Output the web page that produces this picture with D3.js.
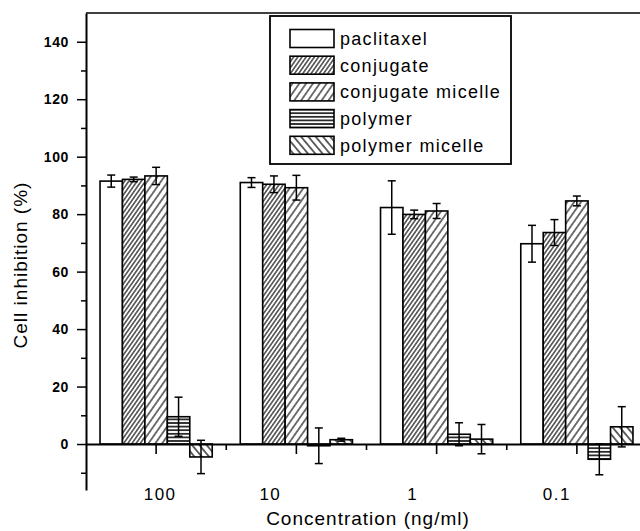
<!DOCTYPE html>
<html>
<head>
<meta charset="utf-8">
<script src="https://cdn.jsdelivr.net/npm/d3@7"></script>
<style>
  body { margin: 0; background: #fff; }
  svg { display: block; font-family: "Liberation Sans", Arial, sans-serif; }
</style>
</head>
<body>
<svg width="640" height="531"></svg>
<script>
// data
var concentrations = ["100", "10", "1", "0.1"];
var seriesNames = ["paclitaxel", "conjugate", "conjugate micelle", "polymer", "polymer micelle"];

var paclitaxel = [91.5, 91.0, 82.3, 69.7];
var paclitaxelErr = [2.1, 1.7, 9.3, 6.4];
var conjugate = [92.1, 90.4, 79.9, 73.6];
var conjugateErr = [0.8, 2.9, 1.5, 4.5];
var conjugateMicelle = [93.3, 89.2, 81.1, 84.6];
var conjugateMicelleErr = [3.0, 4.3, 2.6, 1.7];
var polymer = [9.5, -0.6, 3.4, -5.3];
var polymerErr = [6.8, 6.2, 4.0, 5.4];
var polymerMicelle = [-4.5, 1.5, 1.7, 6.0];
var polymerMicelleErr = [5.8, 0.5, 5.1, 7.0];

var yMajorTicks = [0, 20, 40, 60, 80, 100, 120, 140];
var yMinorTicks = [-10, 10, 30, 50, 70, 90, 110, 130];

var values = [paclitaxel, conjugate, conjugateMicelle, polymer, polymerMicelle];
var errors = [paclitaxelErr, conjugateErr, conjugateMicelleErr, polymerErr, polymerMicelleErr];

var svg = d3.select("svg");
var plotLeft = 86, plotRight = 647, plotTop = 13, plotBottom = 490;

var x0 = d3.scaleBand().domain(concentrations).range([plotLeft, plotRight])
    .paddingInner(0.2).paddingOuter(0.1);
var x1 = d3.scaleBand().domain(seriesNames).range([0, x0.bandwidth()]);
var y = d3.scaleLinear().domain([-16, 150]).range([plotBottom, plotTop]);

// hatch patterns
var defs = svg.append("defs");
function hatch(id, spacing, angle, width) {
    var p = defs.append("pattern")
        .attr("id", id)
        .attr("patternUnits", "userSpaceOnUse")
        .attr("width", spacing).attr("height", spacing)
        .attr("patternTransform", "rotate(" + angle + ")");
    p.append("rect").attr("width", spacing).attr("height", spacing).attr("fill", "#fff");
    p.append("line")
        .attr("x1", spacing / 2).attr("x2", spacing / 2)
        .attr("y1", 0).attr("y2", spacing)
        .attr("stroke", "#000").attr("stroke-width", width);
}
hatch("p-conj", 3.4, 35, 1.1);
hatch("p-conjmic", 5.6, 35, 1.1);
hatch("p-poly", 3.6, 90, 1.5);
hatch("p-polymic", 5.6, -40, 1.2);

var fills = ["#fff", "url(#p-conj)", "url(#p-conjmic)", "url(#p-poly)", "url(#p-polymic)"];

// bars
var groups = svg.append("g").selectAll("g")
    .data(concentrations)
    .enter().append("g")
    .attr("transform", function(d) { return "translate(" + x0(d) + ",0)"; });

groups.selectAll("rect")
    .data(function(d, i) {
        return seriesNames.map(function(s, j) { return { s: s, j: j, v: values[j][i], e: errors[j][i] }; });
    })
    .enter().append("rect")
    .attr("x", function(d) { return x1(d.s); })
    .attr("y", function(d) { return y(Math.max(0, d.v)); })
    .attr("width", x1.bandwidth())
    .attr("height", function(d) { return Math.abs(y(d.v) - y(0)); })
    .attr("fill", function(d) { return fills[d.j]; })
    .attr("stroke", "#000")
    .attr("stroke-width", 1.6);

// error bars
var eb = groups.selectAll("g.err")
    .data(function(d, i) {
        return seriesNames.map(function(s, j) { return { s: s, v: values[j][i], e: errors[j][i] }; });
    })
    .enter().append("g").attr("class", "err")
    .attr("transform", function(d) { return "translate(" + (x1(d.s) + x1.bandwidth() / 2) + ",0)"; });
eb.append("line")
    .attr("y1", function(d) { return y(d.v + d.e); })
    .attr("y2", function(d) { return y(d.v - d.e); })
    .attr("stroke", "#000").attr("stroke-width", 1.5);
[1, -1].forEach(function(sign) {
    eb.append("line")
        .attr("x1", -4).attr("x2", 4)
        .attr("y1", function(d) { return y(d.v + sign * d.e); })
        .attr("y2", function(d) { return y(d.v + sign * d.e); })
        .attr("stroke", "#000").attr("stroke-width", 1.5);
});

// y axis
var yAxis = svg.append("g").attr("transform", "translate(" + plotLeft + ",0)")
    .call(d3.axisLeft(y).tickValues(yMajorTicks).tickSize(9).tickSizeOuter(0).tickPadding(8));
yAxis.select(".domain").attr("stroke-width", 2);
yAxis.selectAll(".tick line").attr("stroke-width", 1.5);
yAxis.selectAll(".tick text")
    .attr("font-size", 14).attr("font-weight", "bold").attr("fill", "#000")
    .attr("font-family", "Liberation Sans, Arial, sans-serif")
    .style("letter-spacing", "0.6px");

var yMinor = svg.append("g").attr("transform", "translate(" + plotLeft + ",0)")
    .call(d3.axisLeft(y).tickValues(yMinorTicks).tickSize(5).tickSizeOuter(0).tickFormat(""));
yMinor.select(".domain").remove();
yMinor.selectAll(".tick line").attr("stroke-width", 1.5);

// x axis at zero
var xAxis = svg.append("g").attr("transform", "translate(0," + y(0) + ")")
    .call(d3.axisBottom(x0).tickSize(10).tickSizeOuter(0).tickFormat(""));
xAxis.select(".domain").attr("stroke-width", 2);
xAxis.selectAll(".tick line").attr("stroke-width", 1.6);

var step = x0.step();
svg.append("g").selectAll("line")
    .data(concentrations.slice(1))
    .enter().append("line")
    .attr("x1", function(d) { return x0(d) - step * x0.paddingInner() / 2; })
    .attr("x2", function(d) { return x0(d) - step * x0.paddingInner() / 2; })
    .attr("y1", y(0)).attr("y2", y(0) + 6)
    .attr("stroke", "#000").attr("stroke-width", 1.6);

// category labels (placed a bit off the group centres as in the original)
var labelShift = [4, -26, -24, -20];
svg.append("g").selectAll("text")
    .data(concentrations)
    .enter().append("text")
    .attr("x", function(d, i) { return x0(d) + x0.bandwidth() / 2 + labelShift[i]; })
    .attr("y", 500)
    .attr("text-anchor", "middle")
    .attr("font-size", 17)
    .style("letter-spacing", "1.5px")
    .text(function(d) { return d; });

// top frame
svg.append("line")
    .attr("x1", plotLeft).attr("x2", plotRight)
    .attr("y1", y(150)).attr("y2", y(150))
    .attr("stroke", "#000").attr("stroke-width", 1.6);

// axis titles
svg.append("text")
    .attr("x", 368).attr("y", 525)
    .attr("text-anchor", "middle")
    .attr("font-size", 19)
    .style("letter-spacing", "1px")
    .text("Concentration (ng/ml)");

svg.append("text")
    .attr("transform", "translate(27,265) rotate(-90)")
    .attr("text-anchor", "middle")
    .attr("font-size", 19)
    .style("letter-spacing", "1px")
    .text("Cell inhibition (%)");

// legend
var legend = svg.append("g");
legend.append("rect")
    .attr("x", 270).attr("y", 16).attr("width", 241).attr("height", 148)
    .attr("fill", "#fff").attr("stroke", "#000").attr("stroke-width", 1.8);

var item = legend.selectAll("g.item")
    .data(seriesNames)
    .enter().append("g").attr("class", "item")
    .attr("transform", function(d, i) { return "translate(290," + (38.5 + i * 26.7) + ")"; });
item.append("rect")
    .attr("x", 0).attr("y", -9).attr("width", 44).attr("height", 18)
    .attr("fill", function(d, i) { return fills[i]; })
    .attr("stroke", "#000").attr("stroke-width", 1.6);
item.append("text")
    .attr("x", 50).attr("y", 6.5)
    .attr("font-size", 18)
    .style("letter-spacing", "1.3px")
    .text(function(d) { return d; });
</script>
</body>
</html>
